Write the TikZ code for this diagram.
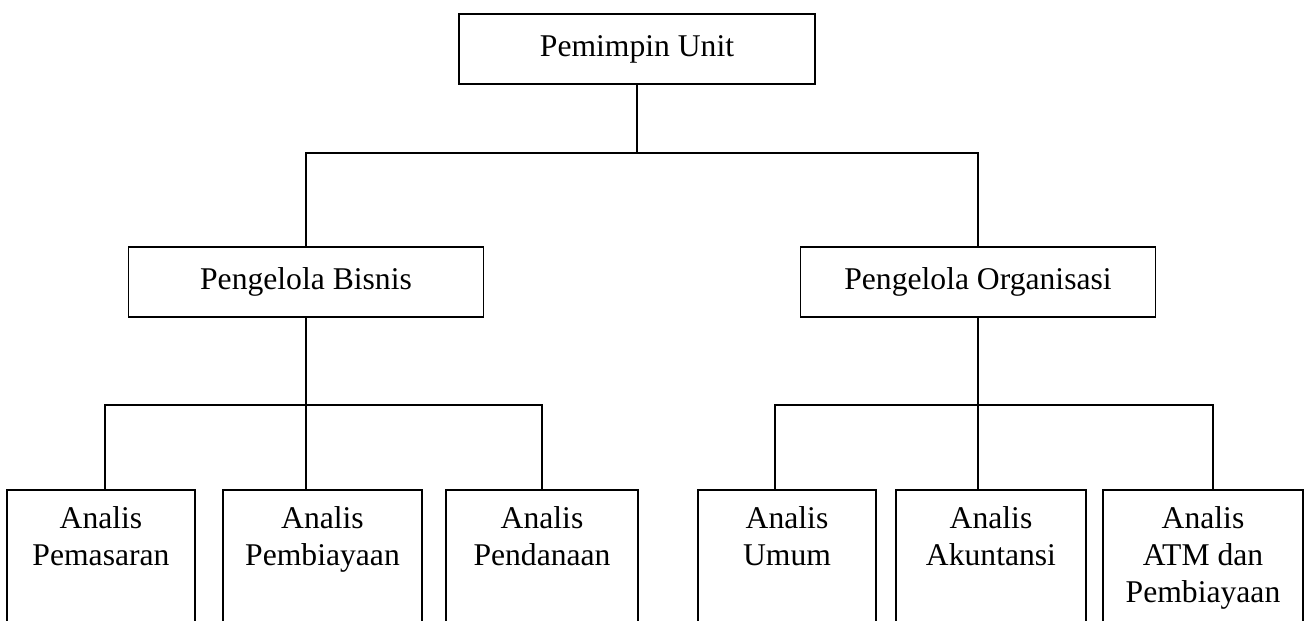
\documentclass[tikz,border=0pt]{standalone}
\usepackage{fontspec}
\setmainfont{Liberation Serif}
\usetikzlibrary{positioning}
\tikzset{box/.style={draw,line width=1pt,align=center,inner sep=0pt,font=\fontsize{18}{21}\selectfont},
  head/.style={box,minimum width=7.1cm,minimum height=1.4cm},
  unit/.style={box,anchor=north,inner ysep=0.34cm,text depth=4cm},
  link/.style={line width=1pt}}

\begin{document}
\begin{tikzpicture}
\path[use as bounding box,clip] (0,0) rectangle (26.16,-12.4);
\node[head,minimum width=7.12cm] (pu) at (12.74,-0.98) {Pemimpin Unit};
\node[head] (pb) at (6.12,-5.64) {Pengelola Bisnis};
\node[head] (po) at (19.56,-5.64) {Pengelola Organisasi};
\node[unit,minimum width=3.76cm] (ap) at (2.02,-9.78) {Analis\\Pemasaran};
\node[unit,minimum width=3.98cm] (apb) at (6.45,-9.78) {Analis\\Pembiayaan};
\node[unit,minimum width=3.84cm] (apd) at (10.84,-9.78) {Analis\\Pendanaan};
\node[unit,minimum width=3.56cm] (au) at (15.74,-9.78) {Analis\\Umum};
\node[unit,minimum width=3.80cm] (aak) at (19.82,-9.78) {Analis\\Akuntansi};
\node[unit,minimum width=4.00cm] (aatm) at (24.06,-9.78) {Analis\\ATM dan\\Pembiayaan};
\coordinate (topbus) at (0,-3.06);
\coordinate (lowbus) at (0,-8.1);
% pemimpin ke pengelola
\draw[link] (pu.south) -- (pu.south |- topbus);
\draw[link] (pb.north) |- (po.north |- topbus) -- (po.north);
% pengelola ke analis
\draw[link] (pb.south) -- (pb.south |- apb.north);
\draw[link] ([xshift=0.08cm]ap.north) |- (apd.north |- lowbus) -- (apd.north);
\draw[link] (po.south) -- (po.south |- aak.north);
\draw[link] ([xshift=-0.24cm]au.north) |- ([xshift=0.2cm]aatm.north |- lowbus) -- ([xshift=0.2cm]aatm.north);
\end{tikzpicture}
\end{document}
